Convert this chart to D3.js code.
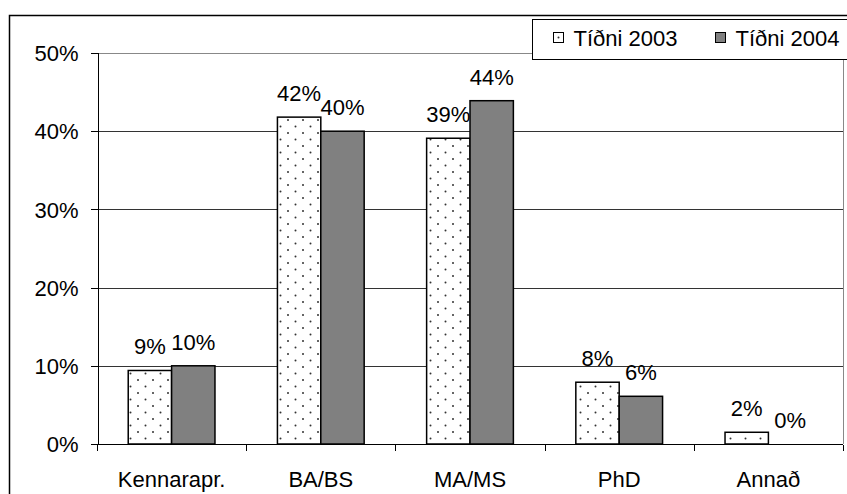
<html>
<head>
<script src="https://cdnjs.cloudflare.com/ajax/libs/d3/7.8.5/d3.min.js"></script>
<style type="text/css">
body { margin: 0; background: #fff; }
svg { font-family: "Liberation Sans", Arial, sans-serif; font-size: 22px; }
.grid line { stroke-width: 1px; shape-rendering: crispEdges; }
.axis path, .axis line { stroke: #000; shape-rendering: crispEdges; }
.axis text { fill: #000; font-size: 22px; font-family: "Liberation Sans", Arial, sans-serif; }
</style>
</head>
<body>
<div id="chart"></div>
<script>
// categories and series (fractions)
var categories = ["Kennarapr.", "BA/BS", "MA/MS", "PhD", "Annað"];
var series = ["Tíðni 2003", "Tíðni 2004"];
var tidni2003 = [0.094, 0.418, 0.391, 0.079, 0.015];
var tidni2004 = [0.100, 0.400, 0.439, 0.061, 0.000];
var yTicks = [0, 0.1, 0.2, 0.3, 0.4, 0.5];

var W = 847, H = 494;
var m = {left: 97, top: 53, right: 4, bottom: 50};

var svg = d3.select("#chart").append("svg")
    .attr("width", W).attr("height", H);

// dotted pattern for 2003
var defs = svg.append("defs");
var pat = defs.append("pattern")
    .attr("id", "dots").attr("patternUnits", "userSpaceOnUse")
    .attr("width", 15).attr("height", 13);
pat.append("rect").attr("width", 15).attr("height", 13).attr("fill", "#fff");
pat.append("circle").attr("cx", 3).attr("cy", 3).attr("r", 1).attr("fill", "#333");
pat.append("circle").attr("cx", 10.5).attr("cy", 9.5).attr("r", 1).attr("fill", "#333");

var fills = ["url(#dots)", "#808080"];

// outer frame
svg.append("rect").attr("x", 9.5).attr("y", 15.5)
    .attr("width", W).attr("height", H)
    .attr("fill", "none").attr("stroke", "#000").attr("stroke-width", 1.5);

var x = d3.scaleBand().domain(categories)
    .range([m.left, W - m.right]);
var y = d3.scaleLinear().domain([0, 0.5])
    .range([H - m.bottom, m.top]);

// gridlines
svg.append("g").attr("class", "grid")
  .selectAll("line").data(yTicks.slice(1)).enter().append("line")
    .attr("x1", m.left).attr("x2", W - m.right)
    .attr("y1", function(d) { return Math.round(y(d)) + 0.5; })
    .attr("y2", function(d) { return Math.round(y(d)) + 0.5; })
    .attr("stroke", function(d) { return d == 0.5 ? "#888" : "#333"; });

// right edge of plot area
svg.append("line")
    .attr("x1", W - m.right + 0.5).attr("x2", W - m.right + 0.5)
    .attr("y1", m.top).attr("y2", H - m.bottom)
    .attr("stroke", "#888").attr("shape-rendering", "crispEdges");

// bars
var inner = d3.scaleBand().domain([0, 1])
    .range([0, x.bandwidth()]).paddingOuter(0.72).paddingInner(0);
var data = [tidni2003, tidni2004];
var groups = svg.selectAll("g.series").data(data).enter().append("g")
    .attr("class", "series");
groups.each(function(vals, si) {
    var g = d3.select(this);
    g.selectAll("rect").data(vals).enter().append("rect")
        .attr("x", function(d, i) { return x(categories[i]) + inner(si); })
        .attr("y", function(d) { return y(d); })
        .attr("width", inner.bandwidth())
        .attr("height", function(d) { return y(0) - y(d); })
        .attr("fill", fills[si])
        .attr("stroke", "#000").attr("stroke-width", 1.5)
        .attr("display", function(d) { return d > 0 ? null : "none"; });
    g.selectAll("text").data(vals).enter().append("text")
        .attr("x", function(d, i) { return x(categories[i]) + inner(si) + inner.bandwidth() / 2; })
        .attr("y", function(d) { return y(d) - 16; })
        .attr("text-anchor", "middle")
        .text(function(d) { return Math.round(d * 100) + "%"; });
});

// axes
svg.append("g").attr("class", "axis")
    .attr("transform", "translate(" + (m.left + 0.5) + ",0)")
    .call(d3.axisLeft(y).tickValues(yTicks).tickSize(7).tickPadding(12)
        .tickFormat(d3.format(".0%")))
    .selectAll("text").attr("dy", "0.35em");

var xAxis = svg.append("g").attr("class", "axis")
    .attr("transform", "translate(0," + (y(0) + 0.5) + ")");
xAxis.append("line").attr("x1", m.left).attr("x2", W - m.right)
    .attr("stroke", "#000");
var edges = categories.map(function(c) { return x(c); }).concat([W - m.right]);
xAxis.selectAll("line.tick").data(edges).enter().append("line")
    .attr("class", "tick")
    .attr("x1", function(d) { return Math.round(d) + 0.5; })
    .attr("x2", function(d) { return Math.round(d) + 0.5; })
    .attr("y1", 0).attr("y2", 6).attr("stroke", "#000");
xAxis.selectAll("text").data(categories).enter().append("text")
    .attr("x", function(d) { return x(d) + x.bandwidth() / 2; })
    .attr("y", 42)
    .attr("text-anchor", "middle")
    .text(function(d) { return d; });

// legend
var lg = svg.append("g").attr("transform", "translate(532.5,19.5)");
lg.append("rect").attr("width", 330).attr("height", 40)
    .attr("fill", "#fff").attr("stroke", "#000").attr("stroke-width", 1);
var lx = [21, 183];
series.forEach(function(s, i) {
    lg.append("rect").attr("x", lx[i]).attr("y", 13).attr("width", 10).attr("height", 10)
        .attr("fill", i == 0 ? "#fff" : "#808080").attr("stroke", "#000");
    if (i == 0) {
        lg.append("circle").attr("cx", lx[i] + 5).attr("cy", 18).attr("r", 1).attr("fill", "#333");
    }
    lg.append("text").attr("x", lx[i] + 20).attr("y", 26).text(s);
});
</script>
</body>
</html>
